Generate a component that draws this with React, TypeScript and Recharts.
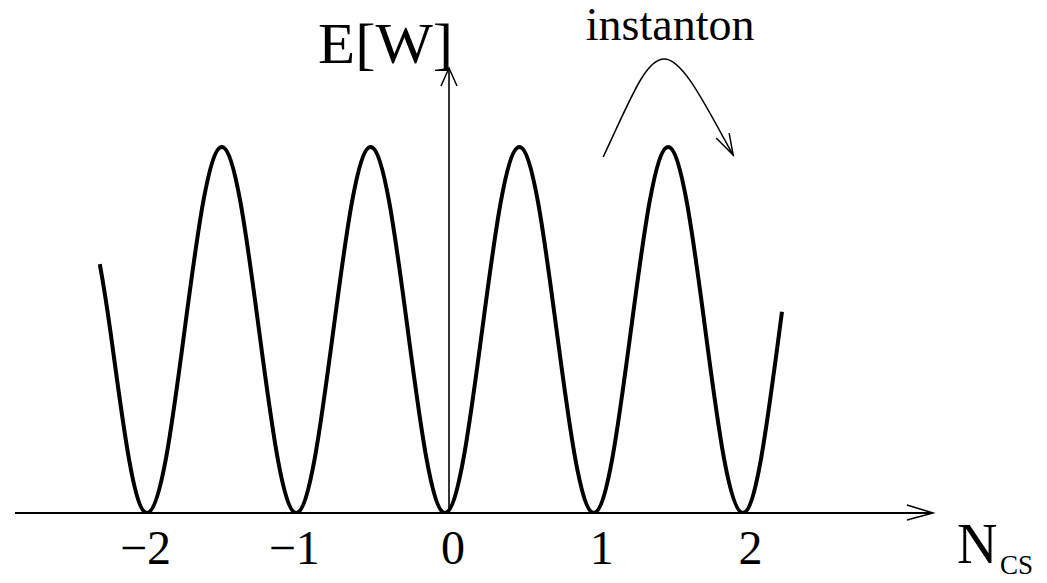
import React from 'react';
import { LineChart, Line, XAxis, YAxis, ReferenceLine, ReferenceDot } from 'recharts';

// Chern-Simons number along the path, and the energy (peak = 1)
const nValues = [
  -2.32, -2.25, -2.125, -2, -1.875, -1.75, -1.625, -1.5, -1.375, -1.25, -1.125,
  -1, -0.875, -0.75, -0.625, -0.5, -0.375, -0.25, -0.125,
  0, 0.125, 0.25, 0.375, 0.5, 0.625, 0.75, 0.875,
  1, 1.125, 1.25, 1.375, 1.5, 1.625, 1.75, 1.875,
  2, 2.125, 2.265,
];
const energy = [
  0.68, 0.5, 0.15, 0, 0.15, 0.5, 0.85, 1, 0.85, 0.5, 0.15,
  0, 0.15, 0.5, 0.85, 1, 0.85, 0.5, 0.15,
  0, 0.15, 0.5, 0.85, 1, 0.85, 0.5, 0.15,
  0, 0.15, 0.5, 0.85, 1, 0.85, 0.5, 0.15,
  0, 0.15, 0.55,
];
const tickValues = [-2, -1, 0, 1, 2];
const yAxisAt = 0.027;
const instantonPeak = { n: 1.5, e: 1 };

const chartData = nValues.map((n, i) => ({ n, e: energy[i] }));

const FONT = '"Liberation Serif", "Times New Roman", serif';

const Tick = (props: any) => {
  const { x, y, payload } = props;
  const v = payload.value as number;
  const label = v < 0 ? `\u2212${Math.abs(v)}` : String(v);
  return (
    <text x={x + (v < 0 ? -2 : 8)} y={y + 51} textAnchor="middle" fontFamily={FONT} fontSize={48} fill="#000">
      {label}
    </text>
  );
};

const XArrow = (props: any) => {
  const { x1, y1, x2, y2 } = props;
  const tip = Math.max(x1, x2);
  return (
    <g>
      <line x1={x1} y1={y1} x2={x2} y2={y2} stroke="#000" strokeWidth={1.8} />
      <path d={`M${tip - 26},${y1 - 8} L${tip},${y1} L${tip - 26},${y1 + 7}`} fill="none" stroke="#000" strokeWidth={1.5} />
      <text x={tip + 24} y={y1 + 50} fontFamily={FONT} fontSize={56} fill="#000">N</text>
      <text x={tip + 67} y={y1 + 61} fontFamily={FONT} fontSize={27} fill="#000">CS</text>
    </g>
  );
};

const YArrow = (props: any) => {
  const { x1, y1, x2, y2 } = props;
  const top = Math.min(y1, y2);
  return (
    <g>
      <line x1={x1} y1={y1} x2={x2} y2={y2} stroke="#000" strokeWidth={1.6} />
      <path d={`M${x1 - 8},${top + 18} L${x1},${top} L${x1 + 8},${top + 18}`} fill="none" stroke="#000" strokeWidth={1.5} />
      <text
        x={x1 + 4}
        y={top - 5}
        textAnchor="end"
        fontFamily={FONT}
        fontSize={56}
        textLength={135}
        lengthAdjust="spacingAndGlyphs"
        fill="#000"
      >
        E[W]
      </text>
    </g>
  );
};

const Instanton = (props: any) => {
  const { cx, cy } = props;
  const p = (dx: number, dy: number) => `${cx + dx},${cy + dy}`;
  return (
    <g>
      <path
        d={`M${p(-65, 10)} C${p(-38, -47)} ${p(-23, -88)} ${p(-4, -88)} C${p(15, -88)} ${p(37, -42)} ${p(65, 8)}`}
        fill="none"
        stroke="#000"
        strokeWidth={1.5}
      />
      <path d={`M${p(48, -9)} L${p(65, 8)} L${p(61, -14)}`} fill="none" stroke="#000" strokeWidth={1.5} />
      <text x={cx + 2} y={cy - 107} textAnchor="middle" fontFamily={FONT} fontSize={46} fill="#000">
        instanton
      </text>
    </g>
  );
};

const App = () => (
  <div style={{ position: 'absolute', left: 0, top: 0, width: 1047, height: 583, background: '#fff' }}>
    <LineChart width={1047} height={583} data={chartData} margin={{ top: 68, right: 114, bottom: 0, left: 15 }}>
      <XAxis
        dataKey="n"
        type="number"
        domain={[-2.89, 3.28]}
        allowDataOverflow
        ticks={tickValues}
        interval={0}
        axisLine={false}
        tickLine={false}
        tickSize={0}
        tickMargin={0}
        height={70}
        tick={<Tick />}
      />
      <YAxis hide domain={[0, 1.216]} allowDataOverflow />
      <ReferenceLine y={0} shape={XArrow} />
      <ReferenceLine x={yAxisAt} shape={YArrow} />
      <Line dataKey="e" type="natural" stroke="#000" strokeWidth={4} dot={false} isAnimationActive={false} />
      <ReferenceDot x={instantonPeak.n} y={instantonPeak.e} shape={Instanton} />
    </LineChart>
  </div>
);

export default App;
